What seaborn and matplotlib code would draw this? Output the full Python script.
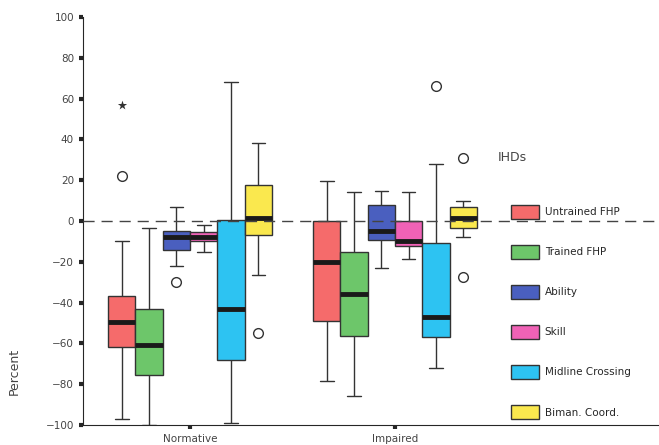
import matplotlib.pyplot as plt
import seaborn as sns
import pandas as pd

groups = ["Normative", "Impaired"]
ihds = ["Untrained FHP", "Trained FHP", "Ability", "Skill", "Midline Crossing", "Biman. Coord."]
colours = ["#F56B6B", "#6DC66A", "#4A5FBF", "#F062B6", "#2DC3F2", "#FAE84E"]

# one row per IHD: whisker low, Q1, median, Q3, whisker high
normative_stats = [
    [-97, -62, -49.5, -37, -10],
    [-100, -75.5, -61, -43, -3.5],
    [-22, -14, -8, -5, 7],
    [-15, -10, -8, -5.5, -2],
    [-99, -68, -43, 0.5, 68],
    [-26.5, -7, 1.5, 17.6, 38],
]
impaired_stats = [
    [-78.5, -49, -20, 0, 19.6],
    [-86, -56.5, -36, -15, 14],
    [-23, -9.4, -5, 8, 14.7],
    [-18.7, -12.4, -10, 0, 14],
    [-72, -57, -47, -10.8, 28],
    [-8, -3.5, 1.5, 7, 10],
]

# outliers (circles) and extreme values (star)
outlier_group = ["Normative", "Normative", "Normative", "Impaired", "Impaired", "Impaired"]
outlier_ihd = ["Untrained FHP", "Ability", "Biman. Coord.", "Midline Crossing", "Biman. Coord.", "Biman. Coord."]
outlier_value = [22, -30, -55, 66, 31, -27.5]

extreme_group = ["Normative"]
extreme_ihd = ["Untrained FHP"]
extreme_value = [57]


# sample whose quartiles / whiskers reproduce the five-number summary
def box_sample(stats, outs):
    lo, q1, med, q3, hi = stats
    above = [v for v in outs if v > q3]
    below = [v for v in outs if v < q1]
    return ([lo] * (1 + len(above)) + [q1, med, q3] * 3
            + [hi] * (1 + len(below)) + above + below)


rows = []
for group, stats_list in zip(groups, [normative_stats, impaired_stats]):
    for ihd, stats in zip(ihds, stats_list):
        outs = [v for g, i, v in zip(outlier_group, outlier_ihd, outlier_value)
                if g == group and i == ihd]
        for v in box_sample(stats, outs):
            rows.append({"group": group, "IHD": ihd, "value": v})
df = pd.DataFrame(rows)
df_ext = pd.DataFrame({"group": extreme_group, "IHD": extreme_ihd, "value": extreme_value})

sns.set_style("ticks")
fig, ax = plt.subplots(figsize=(6.59, 4.45), dpi=100)
fig.subplots_adjust(left=0.126, right=1.0, bottom=0.045, top=0.962)

sns.boxplot(data=df, x="group", y="value", hue="IHD", order=groups, hue_order=ihds,
            palette=colours, saturation=1, width=0.8, gap=0, whis=1.5,
            linewidth=1, linecolor="#333333",
            medianprops=dict(color="#1a1a1a", linewidth=3.5),
            flierprops=dict(marker="o", markerfacecolor="white",
                            markeredgecolor="#333333", markersize=7),
            ax=ax)
sns.stripplot(data=df_ext, x="group", y="value", hue="IHD", order=groups, hue_order=ihds,
              palette=["#333333"] * 6, dodge=True, jitter=False, marker="*",
              size=7, legend=False, ax=ax)

ax.axhline(0, color="#444444", lw=1, dashes=(8, 5), zorder=5)

ax.set_ylim(-100, 100)
ax.set_yticks(range(-100, 101, 20))
ax.set_xlim(-0.522, 2.288)
ax.tick_params(axis="y", labelsize=7.5, labelcolor="#444444", length=3, width=3)
ax.tick_params(axis="x", labelsize=7.5, labelcolor="#444444", length=3, width=3)
ax.set_xlabel("")
ax.set_ylabel("Percent", fontsize=9, color="#444444")
ax.yaxis.set_label_coords(-0.109, 0.13)
sns.despine(ax=ax)

sns.move_legend(ax, "upper left", bbox_to_anchor=(0.768, 0.552),
                bbox_transform=fig.transFigure, frameon=False, title=None,
                fontsize=7.5, handlelength=2.7, handleheight=1.7,
                labelspacing=2.5, handletextpad=0.5, borderpad=0)
fig.text(0.755, 0.645, "IHDs", fontsize=9, color="#444444", va="center")

plt.savefig("out.png", dpi=100)
